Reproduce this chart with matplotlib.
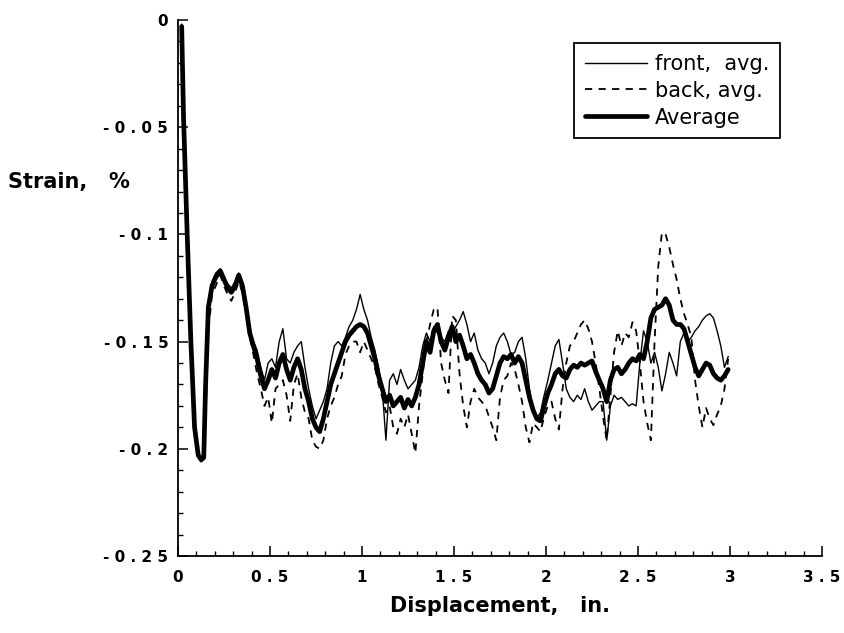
import numpy as np
import matplotlib
matplotlib.use("Agg")
import matplotlib.pyplot as plt
from matplotlib.ticker import MultipleLocator, FixedLocator, FixedFormatter

# ---------------- data ----------------
# initial steep section (displacement, in.)
disp_start = [0.02, 0.03, 0.05, 0.07, 0.09, 0.11, 0.125, 0.14, 0.15, 0.165, 0.185, 0.205]
front_start = [-0.002, -0.042, -0.097, -0.148, -0.188, -0.202, -0.204, -0.203, -0.175, -0.135, -0.122, -0.118]
back_start = [-0.004, -0.050, -0.103, -0.152, -0.192, -0.204, -0.206, -0.205, -0.185, -0.145, -0.128, -0.124]
avg_start = [-0.003, -0.045, -0.100, -0.150, -0.190, -0.203, -0.205, -0.204, -0.170, -0.134, -0.124, -0.120]

# regularly sampled section: 0.23 .. 2.99 in., every 0.02 in.
grid_start, grid_step = 0.23, 0.02

front_main = [
    -0.116, -0.120, -0.123, -0.125, -0.122, -0.118, -0.122, -0.132, -0.145, -0.150,
    -0.154, -0.162, -0.168, -0.160, -0.158, -0.162, -0.150, -0.144, -0.158, -0.160,
    -0.155, -0.152, -0.150, -0.162, -0.172, -0.180, -0.186, -0.182, -0.178, -0.172,
    -0.160, -0.152, -0.150, -0.152, -0.148, -0.143, -0.140, -0.135, -0.128, -0.135,
    -0.140, -0.148, -0.154, -0.162, -0.172, -0.196, -0.168, -0.165, -0.170, -0.163,
    -0.168, -0.172, -0.170, -0.168, -0.162, -0.152, -0.146, -0.150, -0.143, -0.146,
    -0.148, -0.150, -0.145, -0.146, -0.143, -0.140, -0.136, -0.142, -0.150, -0.146,
    -0.154, -0.158, -0.160, -0.165, -0.160, -0.152, -0.148, -0.146, -0.150, -0.156,
    -0.155, -0.150, -0.148, -0.158, -0.172, -0.182, -0.186, -0.183, -0.175, -0.168,
    -0.160, -0.152, -0.149, -0.160, -0.172, -0.176, -0.178, -0.175, -0.177, -0.172,
    -0.178, -0.182, -0.180, -0.178, -0.178, -0.196, -0.180, -0.175, -0.177, -0.176,
    -0.178, -0.180, -0.179, -0.180, -0.160, -0.145, -0.150, -0.160, -0.155, -0.162,
    -0.173, -0.165, -0.155, -0.160, -0.166, -0.150, -0.146, -0.150, -0.148, -0.145,
    -0.143, -0.140, -0.138, -0.137, -0.139, -0.145, -0.152, -0.162, -0.157,
]

back_main = [
    -0.119, -0.124, -0.128, -0.131, -0.127, -0.122, -0.127, -0.137, -0.148, -0.156,
    -0.165, -0.172, -0.180, -0.176, -0.188, -0.172, -0.170, -0.168, -0.175, -0.187,
    -0.170, -0.165, -0.176, -0.183, -0.186, -0.196, -0.199, -0.200, -0.196, -0.186,
    -0.180, -0.176, -0.170, -0.166, -0.156, -0.152, -0.150, -0.150, -0.155, -0.150,
    -0.154, -0.158, -0.162, -0.170, -0.176, -0.183, -0.180, -0.190, -0.193, -0.186,
    -0.190, -0.184, -0.193, -0.202, -0.180, -0.165, -0.150, -0.142, -0.135, -0.134,
    -0.160, -0.168, -0.174, -0.138, -0.140, -0.165, -0.180, -0.190, -0.178, -0.172,
    -0.176, -0.178, -0.180, -0.185, -0.190, -0.196, -0.176, -0.168, -0.166, -0.160,
    -0.163, -0.170, -0.178, -0.190, -0.197, -0.188, -0.190, -0.192, -0.185, -0.180,
    -0.178, -0.186, -0.191, -0.172, -0.160, -0.152, -0.150, -0.146, -0.142, -0.140,
    -0.144, -0.150, -0.160, -0.172, -0.185, -0.196, -0.175, -0.155, -0.145, -0.152,
    -0.146, -0.148, -0.141, -0.145, -0.160, -0.178, -0.188, -0.196, -0.150, -0.115,
    -0.099, -0.100, -0.106, -0.114, -0.121, -0.130, -0.137, -0.142, -0.148, -0.168,
    -0.180, -0.190, -0.181, -0.186, -0.189, -0.184, -0.180, -0.172, -0.158,
]

avg_main = [
    -0.117, -0.121, -0.125, -0.127, -0.124, -0.119, -0.124, -0.134, -0.146, -0.152,
    -0.158, -0.166, -0.172, -0.168, -0.163, -0.167, -0.160, -0.156, -0.163, -0.168,
    -0.162, -0.158, -0.163, -0.172, -0.178, -0.186, -0.190, -0.192, -0.186, -0.178,
    -0.170, -0.165, -0.160, -0.155, -0.150, -0.147, -0.145, -0.143, -0.142, -0.143,
    -0.146, -0.152, -0.158, -0.166, -0.172, -0.178, -0.175, -0.180, -0.178, -0.176,
    -0.181, -0.177, -0.180, -0.176, -0.170, -0.160, -0.150, -0.155, -0.145, -0.142,
    -0.150, -0.154, -0.148, -0.143, -0.150, -0.147, -0.152, -0.158, -0.156, -0.160,
    -0.165, -0.168, -0.170, -0.174, -0.172, -0.166, -0.160, -0.157, -0.158, -0.156,
    -0.160, -0.157, -0.160, -0.168, -0.176, -0.182, -0.186, -0.187, -0.180, -0.174,
    -0.170, -0.165, -0.163, -0.166, -0.167, -0.163, -0.161, -0.162, -0.160, -0.161,
    -0.160, -0.159, -0.164, -0.168, -0.172, -0.178, -0.168, -0.163, -0.162, -0.165,
    -0.163, -0.160, -0.158, -0.159, -0.156, -0.158, -0.150, -0.139, -0.135, -0.134,
    -0.133, -0.130, -0.133, -0.140, -0.142, -0.142, -0.144, -0.150, -0.156, -0.162,
    -0.166, -0.163, -0.160, -0.161, -0.165, -0.167, -0.168, -0.166, -0.163,
]

series_labels = ["front,  avg.", "back, avg.", "Average"]
x_ticks = [0, 0.5, 1, 1.5, 2, 2.5, 3, 3.5]
x_tick_labels = ["0", "0 . 5", "1", "1 . 5", "2", "2 . 5", "3", "3 . 5"]
y_ticks = [0, -0.05, -0.1, -0.15, -0.2, -0.25]
y_tick_labels = ["0", "- 0 . 0 5", "- 0 . 1", "- 0 . 1 5", "- 0 . 2", "- 0 . 2 5"]
x_label = "Displacement,   in."
y_label = "Strain,   %"


def build(start_vals, main_vals):
    xs = list(disp_start) + [grid_start + grid_step * i for i in range(len(main_vals))]
    return np.array(xs), np.array(list(start_vals) + list(main_vals))


xf, yf = build(front_start, front_main)
xb, yb = build(back_start, back_main)
xa, ya = build(avg_start, avg_main)

# ---------------- figure ----------------
plt.rcParams['font.family'] = ['DejaVu Sans']
fig = plt.figure(figsize=(8.45, 6.33), dpi=100)
ax = fig.add_axes([178 / 845, 1 - 556 / 633, 644 / 845, 536 / 633])

l1, = ax.plot(xf, yf, color='black', lw=1.0, label=series_labels[0])
l2, = ax.plot(xb, yb, color='black', lw=1.3, linestyle=(0, (4, 3.5)), label=series_labels[1])
l3, = ax.plot(xa, ya, color='black', lw=3.4, solid_joinstyle='round', solid_capstyle='round',
              label=series_labels[2])
for ln in (l1, l2, l3):
    ln.set_clip_on(False)

ax.set_xlim(0, 3.5)
ax.set_ylim(-0.25, 0)

for s in ('top', 'right'):
    ax.spines[s].set_visible(False)
for s in ('left', 'bottom'):
    ax.spines[s].set_linewidth(1.3)

ax.xaxis.set_major_locator(FixedLocator(x_ticks))
ax.xaxis.set_major_formatter(FixedFormatter(x_tick_labels))
ax.xaxis.set_minor_locator(MultipleLocator(0.1))
ax.yaxis.set_major_locator(FixedLocator(y_ticks))
ax.yaxis.set_major_formatter(FixedFormatter(y_tick_labels))
ax.yaxis.set_minor_locator(MultipleLocator(0.01))

ax.tick_params(axis='both', which='major', direction='in', length=7, width=1.1, pad=7)
ax.tick_params(axis='both', which='minor', direction='in', length=3.5, width=1.0)
ax.tick_params(axis='x', which='major', pad=10)
for lab in ax.get_xticklabels() + ax.get_yticklabels():
    lab.set_fontweight('bold')
    lab.set_fontsize(11)

fig.text(500 / 845, 1 - 606 / 633, x_label, ha='center', va='center',
         fontsize=15, fontweight='bold')
fig.text(8 / 845, 1 - 182 / 633, y_label, ha='left', va='center',
         fontsize=15, fontweight='bold')

leg = ax.legend(handles=[l1, l2, l3], loc='upper left',
                bbox_to_anchor=(574 / 845, 1 - 43 / 633), bbox_transform=fig.transFigure,
                borderaxespad=0, frameon=True, fancybox=False, shadow=False,
                fontsize=15, handlelength=3.0, handletextpad=0.38,
                labelspacing=0.33, borderpad=0.52)
leg.get_frame().set_edgecolor('black')
leg.get_frame().set_linewidth(1.3)
leg.get_frame().set_alpha(1)

fig.savefig("out.png", dpi=100)
